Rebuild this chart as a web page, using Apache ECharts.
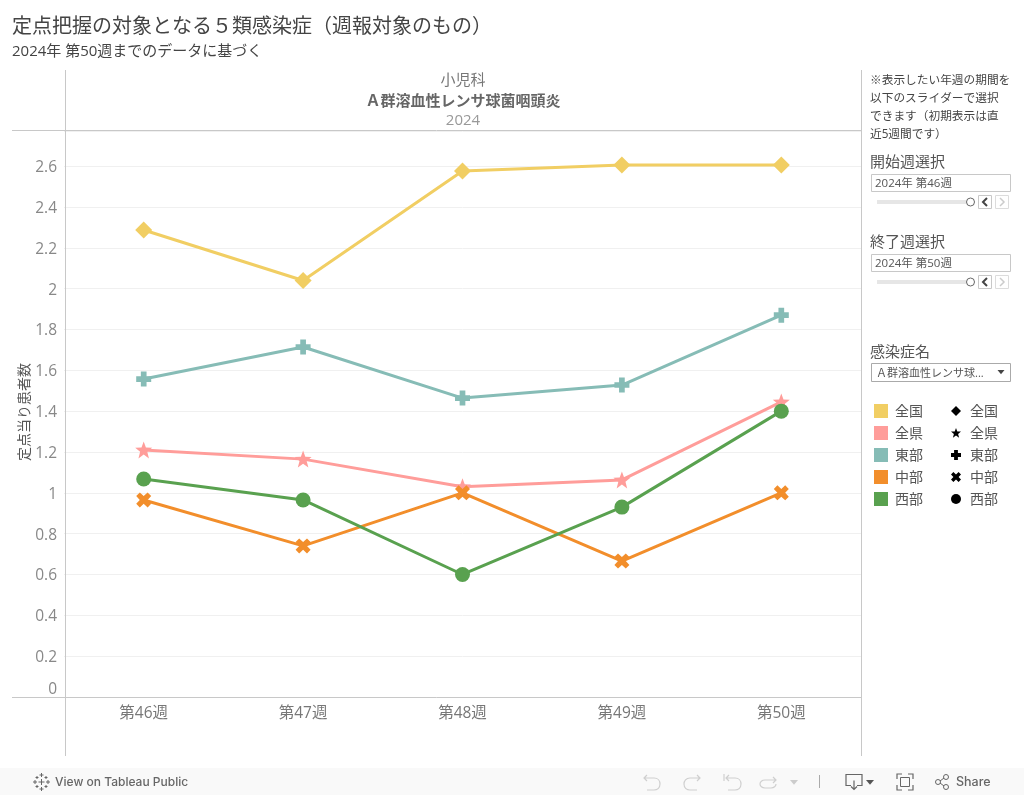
<!DOCTYPE html>
<html><head><meta charset="utf-8">
<style>html,body{margin:0;padding:0;background:#fff}#c{width:1024px;height:795px}</style>
<script src="https://cdn.jsdelivr.net/npm/echarts@6/dist/echarts.min.js"></script>
</head><body><div id="c"></div>
<script>
const weeks = ['第46週','第47週','第48週','第49週','第50週'];
const zenkoku = [2.287,2.04,2.576,2.605,2.605];
const zenken = [1.21,1.165,1.03,1.063,1.445];
const tobu = [1.557,1.714,1.464,1.528,1.87];
const chubu = [0.965,0.74,1.0,0.666,1.0];
const seibu = [1.068,0.965,0.6,0.93,1.40];
const seriesNames = ['全国','全県','東部','中部','西部'];
const colors = ['#f1ce63','#ff9d9a','#86bcb6','#f28e2b','#59a14f'];
const noteLines = ['※表示したい年週の期間を','以下のスライダーで選択','できます（初期表示は直','近5週間です）'];

const FONT = '"Open Sans","Noto Sans CJK JP",sans-serif';
const UI_FONT = 'Inter,"Open Sans",sans-serif';
const D_DIAMOND='M50 0L100 50L50 100L0 50Z';
const D_STAR='M50 0L63 35L100 36L71 59L81 97L50 75L19 97L29 59L0 36L37 35Z';
const D_PLUS='M31 0H69V31H100V69H69V100H31V69H0V31H31Z';
const D_CROSS='M24 0L50 24L76 0L100 24L76 50L100 76L76 100L50 76L24 100L0 76L24 50L0 24Z';
const D_CIRCLE='M50 0A50 50 0 1 1 50 100A50 50 0 1 1 50 0Z';
const symbols = ['path://'+D_DIAMOND,'path://'+D_STAR,'path://'+D_PLUS,'path://'+D_CROSS,'circle'];
const symSizes = [17,17,15,15,15];
const data = [zenkoku,zenken,tobu,chubu,seibu];

function t(text,x,y,size,color,extra){
  const fam=(extra&&extra.family)||FONT;
  const dy=(extra&&extra.family)?0:1.5;
  return {type:'text',silent:true,z:20,style:{text:text,x:x,y:y+dy,fill:color||'#555',
    font:(extra&&extra.weight?extra.weight+' ':'')+size+'px '+fam,
    textAlign:(extra&&extra.align)||'left',textVerticalAlign:'middle'}};
}
function ln(x1,y1,x2,y2,c,w){return {type:'line',silent:true,z:15,shape:{x1,y1,x2,y2},style:{stroke:c||'#c8c8c8',lineWidth:w||1}};}
function rc(x,y,w,h,fill,stroke){return {type:'rect',silent:true,z:16,shape:{x,y,width:w,height:h},style:{fill:fill||'#fff',stroke:stroke||null,lineWidth:1}};}
let pid=0;
function pth(d,x,y,s,fill,stroke,lw){
  const name='rp'+(pid++);
  echarts.graphic.registerShape(name,echarts.graphic.extendPath(d,{}));
  return {type:name,silent:true,z:18,x:x,y:y,scaleX:s,scaleY:s,style:{fill:fill||'none',stroke:stroke||null,lineWidth:(lw||1)/s}};
}
function poly(points,stroke,lw){return {type:'polyline',silent:true,z:18,shape:{points},style:{stroke,lineWidth:lw||1,fill:null}};}

const g = [];
// frame
g.push(ln(65.5,70,65.5,756),ln(861.5,70,861.5,756),ln(12,130.5,861,130.5),ln(12,697.5,861,697.5));
// titles
g.push(t('定点把握の対象となる５類感染症（週報対象のもの）',12,25.5,20,'#444'));
g.push(t('2024年 第50週までのデータに基づく',12,50.5,15,'#444'));
g.push(t('小児科',463,79.5,15,'#777',{align:'center'}));
g.push(t('Ａ群溶血性レンサ球菌咽頭炎',463,100,15,'#666',{align:'center',weight:'bold'}));
g.push(t('2024',463,119.5,15,'#999',{align:'center'}));
// y axis title
const yName=t('定点当り患者数',0,0,14,'#555',{align:'center'});
yName.x=24; yName.y=412; yName.rotation=Math.PI/2; g.push(yName);
// note
noteLines.forEach((s,i)=>g.push(t(s,870,79+i*18,11.7,'#444')));
// filters
function filter(label,labelY,value,boxY){
  g.push(t(label,870,labelY,15,'#555'));
  g.push(rc(871.5,boxY+.5,139,17,'#fff','#c8c8c8'));
  g.push(t(value,875,boxY+8,11.5,'#555'));
  g.push(rc(877,boxY+26,90,4,'#e6e6e6'));
  g.push({type:'circle',silent:true,z:17,shape:{cx:970.5,cy:boxY+28,r:4},style:{fill:'#fff',stroke:'#666',lineWidth:1}});
  g.push(rc(978.5,boxY+21.5,13,13,'#fff','#c8c8c8'),rc(995.5,boxY+21.5,13,13,'#fff','#dcdcdc'));
  g.push(poly([[987,boxY+24],[983,boxY+28],[987,boxY+32]],'#444',2));
  g.push(poly([[1000,boxY+24],[1004,boxY+28],[1000,boxY+32]],'#ccc',1.5));
}
filter('開始週選択',161,'2024年 第46週',174);
filter('終了週選択',241,'2024年 第50週',254);
g.push(t('感染症名',870,351,15,'#555'));
g.push(rc(871.5,363.5,139,18,'#fff','#aaa'));
g.push(t('Ａ群溶血性レンサ球...',876,372,11,'#555'));
g.push(pth('M0 0H10L5 6Z',997.5,370,0.7,'#444'));
// legends
const legSym=[D_DIAMOND,D_STAR,D_PLUS,D_CROSS,D_CIRCLE];
seriesNames.forEach((n,i)=>{
  const y=411+i*22;
  g.push(rc(874,y-7,14,14,colors[i]));
  g.push(t(n,895,y,14,'#555'));
  g.push(pth(legSym[i],951,y-5,0.1,'#000'));
  g.push(t(n,970,y,14,'#555'));
});
// toolbar
const bar=rc(0,768,1024,27,'#f9f9f9'); bar.z=14; g.push(bar);
g.push(t('View on Tableau Public',55,782,12,'#666',{weight:'500',family:UI_FONT}));
const sparkle=[[41.5,775,4],[41.5,789,4],[35,782,4],[48,782,4],[37,777.5,3],[46,777.5,3],[37,786.5,3],[46,786.5,3],[41.5,782,6]];
sparkle.forEach(p=>{g.push(ln(p[0]-p[2]/2,p[1],p[0]+p[2]/2,p[1],'#666'),ln(p[0],p[1]-p[2]/2,p[0],p[1]+p[2]/2,'#666'));});
const gi='#cfcfcf';
g.push(pth('M3 1L0 4L3 7M0 4H10C14 4 16 7 16 10C16 14 13 16 10 16H3',644,774,1,null,gi,1.2));
g.push(pth('M13 1L16 4L13 7M16 4H6C2 4 0 7 0 10C0 14 3 16 6 16H13',684,774,1,null,gi,1.2));
g.push(pth('M0 0V7M5 1L2 4L5 7M2 4H11C15 4 17 7 17 10C17 14 14 16 11 16H4',724,774,1,null,gi,1.2));
g.push(pth('M13 1L16 4L13 7M16 4H5C2 4 0 6 0 8C0 10 2 12 5 12H11C14 12 16 10 16 8',760,776,1,null,gi,1.2));
g.push(pth('M0 0H10L5 6Z',790,780,0.8,'#ccc'));
g.push(ln(819.5,775,819.5,788,'#aaa'));
g.push(pth('M5 11H0V0H16V11H11M8 6V15M5 12L8 15L11 12',846,774.5,1,null,'#666',1.2));
g.push(pth('M0 0H10L5 6Z',866,780,0.8,'#555'));
g.push(pth('M0 5V0H5M11 0H16V5M16 11V16H11M5 16H0V11',897,774,1,null,'#666',1.2));
g.push(rc(900.5,777.5,9,9,'none','#666'));
g.push({type:'circle',silent:true,z:18,shape:{cx:938,cy:782,r:2.5},style:{fill:'none',stroke:'#666'}});
g.push({type:'circle',silent:true,z:18,shape:{cx:946,cy:777,r:2.5},style:{fill:'none',stroke:'#666'}});
g.push({type:'circle',silent:true,z:18,shape:{cx:946,cy:787,r:2.5},style:{fill:'none',stroke:'#666'}});
g.push(ln(940,781,944,778,'#666'),ln(940,783,944,786,'#666'));
g.push(t('Share',956,782,12.5,'#666',{weight:'500',family:UI_FONT}));

const chart = echarts.init(document.getElementById('c'),null,{renderer:'canvas'});
chart.setOption({
  animation:false,
  textStyle:{fontFamily:FONT},
  grid:{left:64,right:163,top:131,bottom:98,containLabel:false},
  xAxis:{type:'category',data:weeks,boundaryGap:true,
    axisLine:{show:false},axisTick:{show:false},splitLine:{show:false},
    axisLabel:{color:'#777',fontSize:15.5,margin:9,fontFamily:FONT}},
  yAxis:{type:'value',min:0,max:2.772,interval:0.2,
    axisLine:{show:false},axisTick:{show:false},
    splitLine:{lineStyle:{color:'#f0f0f0',width:1}},
    axisLabel:{color:'#888',fontSize:15.5,margin:7,fontFamily:FONT,showMaxLabel:false,padding:[3,0,0,0],
      formatter:function(v){return v===0?'{z|0}':String(v);},
      rich:{z:{color:'#888',fontSize:15.5,fontFamily:FONT,padding:[0,0,17,0]}}}},
  series:seriesNames.map((n,i)=>({name:n,type:'line',data:data[i],symbol:symbols[i],symbolSize:symSizes[i],
    lineStyle:{color:colors[i],width:3},itemStyle:{color:colors[i]},z:3+i,silent:true})),
  graphic:{elements:g}
});
</script></body></html>
